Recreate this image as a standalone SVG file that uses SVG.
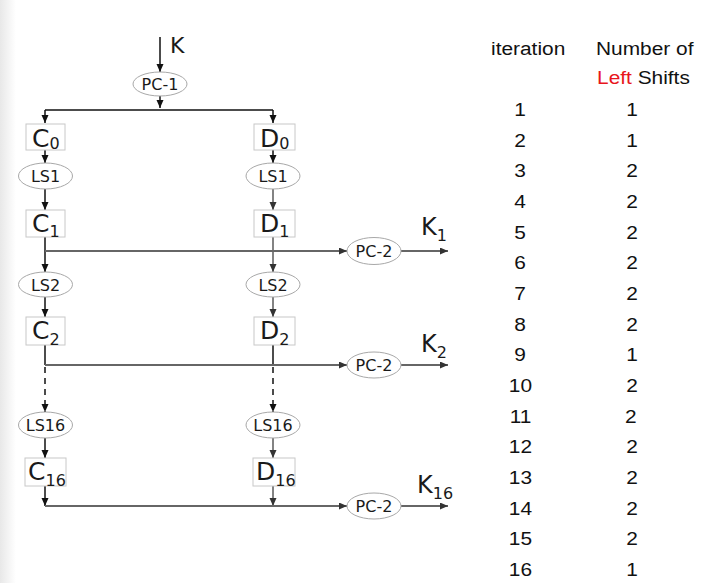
<svg xmlns="http://www.w3.org/2000/svg" width="709" height="583" viewBox="0 0 709 583">
<style>
.lbl{font-family:"DejaVu Sans",Verdana,sans-serif;fill:#1a1a1a}
.el{font-size:16px}
.big{font-size:25px}
.sub{font-size:16px}
.box{fill:#fff;stroke:#c8c8c8;stroke-width:1}
.ell{fill:#fff;stroke:#a8a8a8;stroke-width:1}
.blk{stroke:#111;stroke-width:1.5;fill:none}
.gry{stroke:#5a5a5a;stroke-width:1.5;fill:none}
.hz{stroke:#666;stroke-width:2.2;fill:none}
.tb{font-family:"Liberation Sans",Arial,sans-serif;font-size:18px;fill:#111}
</style>
<defs>
<linearGradient id="edge" x1="0" y1="0" x2="1" y2="0">
<stop offset="0" stop-color="#e8e8e8"/>
<stop offset="1" stop-color="#ffffff"/>
</linearGradient>
<marker id="ab" markerUnits="userSpaceOnUse" markerWidth="9" markerHeight="8" refX="8" refY="3.5" orient="auto">
<path d="M0,0 L8,3.5 L0,7 z" fill="#111"/>
</marker>
<marker id="ag" markerUnits="userSpaceOnUse" markerWidth="9" markerHeight="8" refX="8" refY="3.5" orient="auto">
<path d="M0,0 L8,3.5 L0,7 z" fill="#333"/>
</marker>
</defs>
<rect x="0" y="0" width="709" height="583" fill="#fff"/>
<rect x="0" y="0" width="16" height="583" fill="url(#edge)"/>

<g id="connectors">
<line class="blk" x1="160" y1="37" x2="160" y2="72" marker-end="url(#ab)"/>
<line class="blk" x1="160" y1="96" x2="160" y2="108" marker-end="url(#ab)"/>
<line class="blk" x1="45" y1="110" x2="273" y2="110"/>
<line class="blk" x1="45" y1="110" x2="45" y2="123" marker-end="url(#ab)"/>
<line class="blk" x1="273" y1="110" x2="273" y2="123" marker-end="url(#ab)"/>
<line class="blk" x1="45" y1="150" x2="45" y2="163" marker-end="url(#ab)"/>
<line class="blk" x1="45" y1="189" x2="45" y2="210" marker-end="url(#ab)"/>
<line class="blk" x1="45" y1="237" x2="45" y2="272" marker-end="url(#ab)"/>
<line class="blk" x1="45" y1="297" x2="45" y2="317" marker-end="url(#ab)"/>
<line class="blk" x1="45" y1="345" x2="45" y2="365"/>
<line class="blk" x1="45" y1="367" x2="45" y2="412" stroke-dasharray="6,5" marker-end="url(#ab)"/>
<line class="blk" x1="45" y1="438" x2="45" y2="458" marker-end="url(#ab)"/>
<line class="blk" x1="45" y1="486" x2="45" y2="506" marker-end="url(#ab)"/>
<line class="blk" x1="273" y1="150" x2="273" y2="163" marker-end="url(#ab)"/>
<line class="gry" x1="273" y1="189" x2="273" y2="210" marker-end="url(#ag)"/>
<line class="gry" x1="273" y1="237" x2="273" y2="272" marker-end="url(#ag)"/>
<line class="gry" x1="273" y1="297" x2="273" y2="317" marker-end="url(#ag)"/>
<line class="blk" x1="273" y1="345" x2="273" y2="365"/>
<line class="blk" x1="273" y1="367" x2="273" y2="412" stroke-dasharray="6,5" marker-end="url(#ab)"/>
<line class="gry" x1="273" y1="438" x2="273" y2="458" marker-end="url(#ag)"/>
<line class="gry" x1="273" y1="486" x2="273" y2="506" marker-end="url(#ag)"/>
<line class="hz" x1="45" y1="251" x2="347" y2="251" marker-end="url(#ag)"/>
<line class="hz" x1="401" y1="251" x2="448" y2="251" marker-end="url(#ag)"/>
<line class="hz" x1="45" y1="365" x2="347" y2="365" marker-end="url(#ag)"/>
<line class="hz" x1="401" y1="365" x2="448" y2="365" marker-end="url(#ag)"/>
<line class="hz" x1="45" y1="506" x2="347" y2="506" marker-end="url(#ag)"/>
<line class="hz" x1="401" y1="506" x2="448" y2="506" marker-end="url(#ag)"/>
</g>

<g id="K"><text class="lbl" x="170" y="53" font-size="22">K</text></g>
<g id="pc1"><ellipse class="ell" cx="160" cy="84" rx="27" ry="12"/><text class="lbl el" x="160" y="90" text-anchor="middle">PC-1</text></g>

<g id="c0"><rect class="box" x="26" y="124" width="39" height="26"/><text class="lbl big" x="32" y="147">C<tspan class="sub" dy="2">0</tspan></text></g>
<g id="d0"><rect class="box" x="254" y="124" width="41" height="26"/><text class="lbl big" x="260" y="147">D<tspan class="sub" dy="2">0</tspan></text></g>
<g id="ls1c"><ellipse class="ell" cx="45.5" cy="176" rx="27" ry="13"/><text class="lbl el" x="45.5" y="182" text-anchor="middle">LS1</text></g>
<g id="ls1d"><ellipse class="ell" cx="273" cy="176" rx="27" ry="13"/><text class="lbl el" x="273" y="182" text-anchor="middle">LS1</text></g>

<g id="c1"><rect class="box" x="26" y="210" width="39" height="27"/><text class="lbl big" x="32" y="232">C<tspan class="sub" dy="5">1</tspan></text></g>
<g id="d1"><rect class="box" x="254" y="210" width="41" height="27"/><text class="lbl big" x="260" y="232">D<tspan class="sub" dy="5">1</tspan></text></g>
<g id="pc2a"><ellipse class="ell" cx="374" cy="251" rx="27" ry="13.5"/><text class="lbl el" x="374" y="257" text-anchor="middle">PC-2</text></g>
<g id="k1"><text class="lbl" x="421" y="235" font-size="24">K<tspan class="sub" dy="6">1</tspan></text></g>

<g id="ls2c"><ellipse class="ell" cx="45.5" cy="284.5" rx="27" ry="12.5"/><text class="lbl el" x="45.5" y="290.5" text-anchor="middle">LS2</text></g>
<g id="ls2d"><ellipse class="ell" cx="273" cy="284.5" rx="27" ry="12.5"/><text class="lbl el" x="273" y="290.5" text-anchor="middle">LS2</text></g>

<g id="c2"><rect class="box" x="26" y="317" width="39" height="28"/><text class="lbl big" x="32" y="339">C<tspan class="sub" dy="6">2</tspan></text></g>
<g id="d2"><rect class="box" x="254" y="317" width="41" height="28"/><text class="lbl big" x="260" y="339">D<tspan class="sub" dy="6">2</tspan></text></g>
<g id="pc2b"><ellipse class="ell" cx="374" cy="365" rx="27" ry="13"/><text class="lbl el" x="374" y="371" text-anchor="middle">PC-2</text></g>
<g id="k2"><text class="lbl" x="421" y="352" font-size="24">K<tspan class="sub" dy="6">2</tspan></text></g>

<g id="ls16c"><ellipse class="ell" cx="45.5" cy="425" rx="27" ry="13"/><text class="lbl el" x="45.5" y="431" text-anchor="middle">LS16</text></g>
<g id="ls16d"><ellipse class="ell" cx="273" cy="425" rx="27" ry="13"/><text class="lbl el" x="273" y="431" text-anchor="middle">LS16</text></g>

<g id="c16"><rect class="box" x="25" y="458" width="41" height="28"/><text class="lbl big" x="28" y="480">C<tspan class="sub" dy="6">16</tspan></text></g>
<g id="d16"><rect class="box" x="253" y="458" width="42" height="28"/><text class="lbl big" x="256" y="480">D<tspan class="sub" dy="6">16</tspan></text></g>
<g id="pc2c"><ellipse class="ell" cx="374" cy="506" rx="27" ry="13"/><text class="lbl el" x="374" y="512" text-anchor="middle">PC-2</text></g>
<g id="k16"><text class="lbl" x="417" y="493" font-size="24">K<tspan class="sub" dy="6">16</tspan></text></g>

<g id="table" transform="scale(1.16,1)">
<text class="tb" x="423.3" y="55">iteration</text>
<text class="tb" x="513.8" y="55">Number of</text>
<text class="tb" x="514.7" y="84"><tspan fill="#e8161b">Left</tspan> Shifts</text>
<g text-anchor="middle">
<text class="tb" x="448.3" y="116">1</text><text class="tb" x="544.8" y="116">1</text>
<text class="tb" x="448.3" y="146.7">2</text><text class="tb" x="544.8" y="146.7">1</text>
<text class="tb" x="448.3" y="177.3">3</text><text class="tb" x="544.8" y="177.3">2</text>
<text class="tb" x="448.3" y="208">4</text><text class="tb" x="544.8" y="208">2</text>
<text class="tb" x="448.3" y="238.7">5</text><text class="tb" x="544.8" y="238.7">2</text>
<text class="tb" x="448.3" y="269.3">6</text><text class="tb" x="544.8" y="269.3">2</text>
<text class="tb" x="448.3" y="300">7</text><text class="tb" x="544.8" y="300">2</text>
<text class="tb" x="448.3" y="330.7">8</text><text class="tb" x="544.8" y="330.7">2</text>
<text class="tb" x="448.3" y="361.3">9</text><text class="tb" x="544.8" y="361.3">1</text>
<text class="tb" x="448.7" y="392">10</text><text class="tb" x="544.8" y="392">2</text>
<text class="tb" x="448.7" y="422.7">11</text><text class="tb" x="543.9" y="422.7">2</text>
<text class="tb" x="448.7" y="453.3">12</text><text class="tb" x="544.8" y="453.3">2</text>
<text class="tb" x="448.7" y="484">13</text><text class="tb" x="544.8" y="484">2</text>
<text class="tb" x="448.7" y="514.7">14</text><text class="tb" x="544.8" y="514.7">2</text>
<text class="tb" x="448.7" y="545.3">15</text><text class="tb" x="544.8" y="545.3">2</text>
<text class="tb" x="448.7" y="576">16</text><text class="tb" x="544.8" y="576">1</text>
</g>
</g>
</svg>
